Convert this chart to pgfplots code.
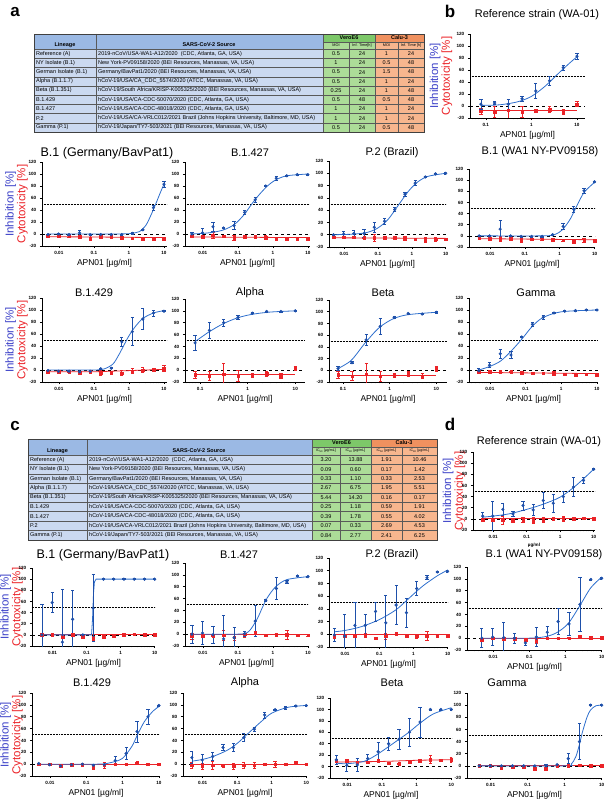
\documentclass[border=0pt]{standalone}
\usepackage{fontspec}
\setmainfont{Liberation Sans}
\usepackage{pgfplots}
\pgfplotsset{compat=1.18}
\definecolor{gpb}{RGB}{30,80,170}
\definecolor{gpbl}{RGB}{45,110,205}
\definecolor{gpr}{RGB}{235,35,40}
\definecolor{lblue}{RGB}{60,65,200}
\definecolor{hb}{RGB}{155,185,228}
\definecolor{bb}{RGB}{203,217,240}
\definecolor{hg}{RGB}{125,200,105}
\definecolor{bg}{RGB}{172,220,152}
\definecolor{ho}{RGB}{240,145,95}
\definecolor{bo}{RGB}{247,182,142}
\pgfplotsset{/pgf/number format/assume math mode=true}
\pgfplotsset{every axis/.append style={scale only axis, xmode=log, axis x line*=bottom, axis y line*=left,
  ymin=-20, ymax=120, ytick={-20,0,20,40,60,80,100,120},
  minor xtick={0.002,0.003,0.004,0.005,0.006,0.007,0.008,0.009,0.02,0.03,0.04,0.05,0.06,0.07,0.08,0.09,0.2,0.3,0.4,0.5,0.6,0.7,0.8,0.9,2,3,4,5,6,7,8,9},
  tick align=outside, major tick length=2.2pt, minor tick length=1.3pt,
  tick style={black, line width=0.6pt}, axis line style={line width=0.8pt},
  tick label style={font=\fontsize{4.6}{5}\selectfont\bfseries},
  xlabel={APN01 [µg/ml]}, xlabel style={font=\fontsize{8.5}{9}\selectfont, inner sep=0pt, yshift=-1pt}}}
\pgfplotsset{
 bl/.style={only marks, mark=*, mark size=1.4pt, color=gpb, error bars/.cd, y dir=both, y explicit, error bar style={line width=0.7pt}, error mark options={rotate=90, mark size=1.6pt, line width=0.7pt}},
 rd/.style={only marks, mark=square*, mark size=1.3pt, color=gpr, error bars/.cd, y dir=both, y explicit, error bar style={line width=0.7pt}, error mark options={rotate=90, mark size=1.6pt, line width=0.7pt}},
 blc/.style={no marks, color=gpbl, line width=0.8pt, smooth},
 rdc/.style={no marks, color=gpr, line width=0.8pt},
}
\newcommand\refl{\draw[densely dotted, line width=0.5pt] ({rel axis cs:0,0}|-{axis cs:1,50}) -- ({rel axis cs:1,0}|-{axis cs:1,50});
 \draw[dashed, line width=0.7pt] ({rel axis cs:0,0}|-{axis cs:1,0}) -- ({rel axis cs:1,0}|-{axis cs:1,0});}
\newcommand\ttl[3]{\node[font=\fontsize{11}{12}\selectfont] at (#1,#2) {#3};}
\newcommand\ttlb[3]{\node[font=\fontsize{12.5}{13}\selectfont] at (#1,#2) {#3};}
\newcommand\ylab[2]{\node[rotate=90, align=center, font=\fontsize{11.5}{9.6}\selectfont, inner sep=0pt] at (#1,#2) {\textcolor{lblue}{Inhibition [\%]}\\\textcolor{gpr}{Cytotoxicity [\%]}};}
\newcommand\TRa[7]{\node[tt, anchor=west] at (36,#1) {#2}; \node[tt, anchor=west] at (98,#1) {#3};
 \node[tt] at (336,#1) {#4}; \node[tt] at (362,#1) {#5}; \node[tt] at (386.5,#1) {#6}; \node[tt] at (411,#1) {#7};}
\newcommand\TRc[7]{\node[tt, anchor=west] at (30,#1) {#2}; \node[tt, anchor=west] at (89,#1) {#3};
 \node[tt] at (326,#1) {#4}; \node[tt] at (355.5,#1) {#5}; \node[tt] at (386.5,#1) {#6}; \node[tt] at (419.5,#1) {#7};}
\begin{document}
\begin{tikzpicture}
\useasboundingbox (0pt,0pt) rectangle (606pt,-799pt);
\begin{scope}[x=1pt, y=-1pt, tt/.style={font=\fontsize{5.5}{6}\selectfont, inner sep=0pt}, gl/.style={draw=black!65, line width=0.35pt}, gb/.style={draw=black!75, line width=0.6pt}]
\node[font=\fontsize{17}{18}\selectfont\bfseries] at (15,12) {a};
\node[font=\fontsize{17}{18}\selectfont\bfseries] at (450,11) {b};
\node[font=\fontsize{17}{18}\selectfont\bfseries] at (15,426) {c};
\node[font=\fontsize{17}{18}\selectfont\bfseries] at (450,424) {d};
% ---------- table a
\fill[hb] (34,34) rectangle (323,49);
\fill[bb] (34,49) rectangle (323,132);
\fill[hg] (323,34) rectangle (375,42);
\fill[bg] (323,42) rectangle (375,132);
\fill[ho] (375,34) rectangle (424,42);
\fill[bo] (375,42) rectangle (424,132);
\draw[gl] (323,42) -- (424,42);
\foreach \y in {49,58.2,67.4,76.7,85.9,95.1,104.3,113.6,122.8} \draw[gl] (34,\y) -- (424,\y);
\foreach \x in {96,323,375} \draw[gl] (\x,34) -- (\x,132);
\draw[gl] (349,42) -- (349,132); \draw[gl] (398,42) -- (398,132);
\draw[gb] (34,34) rectangle (424,132);
\node[tt, font=\fontsize{5.5}{6}\selectfont\bfseries] at (65,45.3) {Lineage};
\node[tt, font=\fontsize{5.5}{6}\selectfont\bfseries] at (209,45) {SARS-CoV-2 Source};
\node[tt, font=\fontsize{5.5}{6}\selectfont\bfseries] at (349,38) {VeroE6};
\node[tt, font=\fontsize{5.5}{6}\selectfont\bfseries] at (399.5,38) {Calu-3};
\node[tt, font=\fontsize{3.8}{4}\selectfont] at (336,45.5) {MOI};
\node[tt, font=\fontsize{3.8}{4}\selectfont] at (362,45.5) {Inf. Time[h]};
\node[tt, font=\fontsize{3.8}{4}\selectfont] at (386.5,45.5) {MOI};
\node[tt, font=\fontsize{3.8}{4}\selectfont] at (411,45.5) {Inf. Time [h]};
\TRa{53.6}{Reference (A)}{2019-nCoV/USA-WA1-A12/2020\ \ (CDC, Atlanta, GA, USA)}{0.5}{24}{1}{24}
\TRa{62.8}{NY Isolate (B.1)}{New York-PV09158/2020 (BEI Resources, Manassas, VA, USA)}{1}{24}{0.5}{48}
\TRa{72.1}{German Isolate (B.1)}{Germany/BavPat1/2020 (BEI Resources, Manassas, VA, USA)}{0.5}{24}{1.5}{48}
\TRa{81.3}{Alpha (B.1.1.7)}{hCoV-19/USA/CA\_CDC\_5574/2020 (ATCC, Manassas, VA, USA)}{0.5}{24}{1}{24}
\TRa{90.5}{Beta (B.1.351)}{hCoV-19/South Africa/KRISP-K005325/2020 (BEI Resources, Manassas, VA, USA)}{0.25}{24}{1}{48}
\TRa{99.7}{B.1.429}{hCoV-19/USA/CA-CDC-50070/2020 (CDC, Atlanta, GA, USA)}{0.5}{48}{0.5}{48}
\TRa{109.0}{B.1.427}{hCoV-19/USA/CA-CDC-48018/2020 (CDC, Atlanta, GA, USA)}{1}{24}{1}{24}
\TRa{118.2}{P.2}{hCoV-19/USA/CA-VRLC012/2021 Brazil (Johns Hopkins University, Baltimore, MD, USA)}{1}{24}{1}{24}
\TRa{127.4}{Gamma (P.1)}{hCoV-19/Japan/TY7-503/2021 (BEI Resources, Manassas, VA, USA)}{0.5}{24}{0.5}{48}
% ---------- table c
\fill[hb] (28,439) rectangle (312,455);
\fill[bb] (28,455) rectangle (312,540);
\fill[hg] (312,439) rectangle (371,447);
\fill[bg] (312,447) rectangle (371,540);
\fill[ho] (371,439) rectangle (437,447);
\fill[bo] (371,447) rectangle (437,540);
\draw[gl] (312,447) -- (437,447);
\foreach \y in {455,464.4,473.9,483.3,492.8,502.2,511.6,521.1,530.6} \draw[gl] (28,\y) -- (437,\y);
\foreach \x in {87,312,371} \draw[gl] (\x,439) -- (\x,540);
\draw[gl] (340,447) -- (340,540); \draw[gl] (402,447) -- (402,540);
\draw[gb] (28,439) rectangle (437,540);
\node[tt, font=\fontsize{5.5}{6}\selectfont\bfseries] at (57.5,451) {Lineage};
\node[tt, font=\fontsize{5.5}{6}\selectfont\bfseries] at (199,451) {SARS-CoV-2 Source};
\node[tt, font=\fontsize{5.5}{6}\selectfont\bfseries] at (341.5,443) {VeroE6};
\node[tt, font=\fontsize{5.5}{6}\selectfont\bfseries] at (404,443) {Calu-3};
\node[tt, font=\fontsize{3.6}{4}\selectfont] at (326,451) {IC\textsubscript{50} [µg/mL]};
\node[tt, font=\fontsize{3.6}{4}\selectfont] at (355.5,451) {IC\textsubscript{90} [µg/mL]};
\node[tt, font=\fontsize{3.6}{4}\selectfont] at (386.5,451) {IC\textsubscript{50} [µg/mL]};
\node[tt, font=\fontsize{3.6}{4}\selectfont] at (419.5,451) {IC\textsubscript{90} [µg/mL]};
\TRc{459.7}{Reference (A)}{2019-nCoV/USA-WA1-A12/2020\ \ (CDC, Atlanta, GA, USA)}{3.20}{13.88}{1.91}{10.46}
\TRc{469.2}{NY Isolate (B.1)}{New York-PV09158/2020 (BEI Resources, Manassas, VA, USA)}{0.09}{0.60}{0.17}{1.42}
\TRc{478.6}{German Isolate (B.1)}{Germany/BavPat1/2020 (BEI Resources, Manassas, VA, USA)}{0.33}{1.10}{0.33}{2.53}
\TRc{488.0}{Alpha (B.1.1.7)}{hCoV-19/USA/CA\_CDC\_5574/2020 (ATCC, Manassas, VA, USA)}{2.67}{6.75}{1.95}{5.51}
\TRc{497.5}{Beta (B.1.351)}{hCoV-19/South Africa/KRISP-K005325/2020 (BEI Resources, Manassas, VA, USA)}{5.44}{14.20}{0.16}{0.17}
\TRc{506.9}{B.1.429}{hCoV-19/USA/CA-CDC-50070/2020 (CDC, Atlanta, GA, USA)}{0.25}{1.18}{0.59}{1.91}
\TRc{516.4}{B.1.427}{hCoV-19/USA/CA-CDC-48018/2020 (CDC, Atlanta, GA, USA)}{0.39}{1.78}{0.55}{4.02}
\TRc{525.8}{P.2}{hCoV-19/USA/CA-VRLC012/2021 Brazil (Johns Hopkins University, Baltimore, MD, USA)}{0.07}{0.33}{2.69}{4.53}
\TRc{535.3}{Gamma (P.1)}{hCoV-19/Japan/TY7-503/2021 (BEI Resources, Manassas, VA, USA)}{0.84}{2.77}{2.41}{6.25}
% titles
\ttlb{107}{153}{B.1 (Germany/BavPat1)}
\ttl{250}{153}{B.1.427}
\ttl{392}{153}{P.2 (Brazil)}
\ttl{540}{152}{B.1 (WA1 NY-PV09158)}
\ttl{537}{15}{Reference strain (WA-01)}
\ttl{94}{293}{B.1.429}
\ttl{250}{293}{Alpha}
\ttl{383}{293}{Beta}
\ttl{536}{293}{Gamma}
\ttlb{103}{555}{B.1 (Germany/BavPat1)}
\ttl{239}{555}{B.1.427}
\ttl{392}{555}{P.2 (Brazil)}
\ttl{544}{555}{B.1 (WA1 NY-PV09158)}
\ttl{539}{442}{Reference strain (WA-01)}
\ttl{92}{683}{B.1.429}
\ttl{245}{683}{Alpha}
\ttl{392}{683}{Beta}
\ttl{507}{683}{Gamma}
\ylab{16.5}{204}
\ylab{16.5}{340}
\ylab{441}{76}
\ylab{11.5}{607}
\ylab{11.5}{735}
\ylab{454}{491}
\end{scope}
% ================= panel a row 1
\begin{axis}[anchor=south west, at={(42pt,-246pt)}, width=125pt, height=84pt, xmin=0.0033, xmax=12.2, xtick={0.01,0.1,1,10}, xticklabels={0.01,0.1,1,10}]
\refl
\addplot[rdc] coordinates {(0.0049,-4.5) (0.1,-5) (1,-5.5) (10,-6)};
\addplot[rd] coordinates {(0.0048828,-4) +- (0,1) (0.0097656,-4) +- (0,1) (0.0195313,-4) +- (0,2) (0.0390625,-5) +- (0,2) (0.078125,-7) +- (0,4) (0.15625,-5) +- (0,1) (0.3125,-5) +- (0,1) (0.625,-6) +- (0,2) (1.25,-7) +- (0,1) (2.5,-8) +- (0,3) (5,-8) +- (0,3) (10,-8) +- (0,2)};
\addplot[blc] coordinates {(0.0049,0) (0.3,0) (1,0.5) (1.5,2) (2,4) (3,14) (4,28) (5,41) (6,52) (8,70) (10,83)};
\addplot[bl] coordinates {(0.0048828,-1) +- (0,1) (0.0097656,0) +- (0,1) (0.0195313,-1) +- (0,1) (0.0390625,2) +- (0,4) (0.078125,-1) +- (0,1) (0.15625,-1) +- (0,1) (0.3125,-1) +- (0,1) (0.625,-1) +- (0,1) (1.25,1) +- (0,1) (2.5,7) +- (0,1) (5,44) +- (0,4) (10,83) +- (0,5)};
\end{axis}
\begin{axis}[anchor=south west, at={(185pt,-246pt)}, width=125pt, height=84pt, xmin=0.0031, xmax=11.5, xtick={0.01,0.1,1,10}, xticklabels={0.01,0.1,1,10}]
\refl
\addplot[rdc] coordinates {(0.0049,-5) (10,-6)};
\addplot[rd] coordinates {(0.0048828,-4) +- (0,2) (0.0097656,-5) +- (0,1) (0.0195313,-2) +- (0,5) (0.0390625,-4) +- (0,1) (0.078125,-6) +- (0,4) (0.15625,-5) +- (0,1) (0.3125,-5) +- (0,1) (0.625,-6) +- (0,3) (1.25,-8) +- (0,1) (2.5,-8) +- (0,1) (5,-8) +- (0,1) (10,-8) +- (0,2)};
\addplot[blc] coordinates {(0.0049,0) (0.01,1) (0.02,3) (0.04,7) (0.08,16) (0.15,32) (0.25,50) (0.4,65) (0.7,80) (1.2,90) (2.5,97) (10,100)};
\addplot[bl] coordinates {(0.0048828,0) +- (0,2) (0.0097656,2) +- (0,7) (0.0195313,12) +- (0,7) (0.0390625,10) +- (0,1) (0.078125,14) +- (0,7) (0.15625,36) +- (0,4) (0.3125,57) +- (0,4) (0.625,80) +- (0,1) (1.25,93) +- (0,3) (2.5,97) +- (0,1) (5,99) +- (0,1) (10,99) +- (0,1)};
\end{axis}
\begin{axis}[anchor=south west, at={(329pt,-247pt)}, width=117pt, height=86pt, xmin=0.0036, xmax=10.2, xtick={0.01,0.1,1,10}, xticklabels={0.01,0.1,1,10}]
\refl
\addplot[rdc] coordinates {(0.0049,-5) (10,-6)};
\addplot[rd] coordinates {(0.0048828,-4) +- (0,1) (0.0097656,-4) +- (0,1) (0.0195313,-4) +- (0,1) (0.0390625,-5) +- (0,1) (0.078125,-5) +- (0,5) (0.15625,-5) +- (0,1) (0.3125,-5) +- (0,1) (0.625,-6) +- (0,3) (1.25,-7) +- (0,1) (2.5,-8) +- (0,4) (5,-7) +- (0,3) (10,-7) +- (0,1)};
\addplot[blc] coordinates {(0.0049,0) (0.02,1) (0.05,4) (0.1,11) (0.2,25) (0.4,48) (0.8,71) (1.5,86) (3,95) (10,100)};
\addplot[bl] coordinates {(0.0048828,0) +- (0,1) (0.0097656,1) +- (0,5) (0.0195313,2) +- (0,5) (0.0390625,2) +- (0,7) (0.078125,12) +- (0,8) (0.15625,22) +- (0,5) (0.3125,41) +- (0,3) (0.625,66) +- (0,3) (1.25,84) +- (0,4) (2.5,94) +- (0,1) (5,99) +- (0,1) (10,100) +- (0,1)};
\end{axis}
\begin{axis}[anchor=south west, at={(469pt,-247pt)}, width=126pt, height=78pt, xmin=0.0025, xmax=10.3, xtick={0.01,0.1,1,10}, xticklabels={0.01,0.1,1,10}]
\refl
\addplot[rdc] coordinates {(0.0049,-5) (10,-7)};
\addplot[rd] coordinates {(0.0048828,-4) +- (0,1) (0.0097656,-5) +- (0,1) (0.0195313,-5) +- (0,4) (0.0390625,-5) +- (0,1) (0.078125,-8) +- (0,4) (0.15625,-6) +- (0,2) (0.3125,-6) +- (0,2) (0.625,-7) +- (0,3) (1.25,-8) +- (0,1) (2.5,-10) +- (0,4) (5,-8) +- (0,3) (10,-9) +- (0,2)};
\addplot[blc] coordinates {(0.0049,0) (0.3,0) (0.7,2) (1.2,11) (2,30) (3,52) (5,78) (10,96)};
\addplot[bl] coordinates {(0.0048828,0) +- (0,1) (0.0097656,0) +- (0,1) (0.0195313,12) +- (0,15) (0.0390625,0) +- (0,1) (0.078125,-1) +- (0,1) (0.15625,-1) +- (0,1) (0.3125,-1) +- (0,1) (0.625,2) +- (0,1) (1.25,17) +- (0,5) (2.5,48) +- (0,5) (5,81) +- (0,5) (10,97) +- (0,1)};
\end{axis}
% panel b
\begin{axis}[anchor=south west, at={(470pt,-118pt)}, width=115pt, height=84pt, xmin=0.045, xmax=15, xtick={0.1,1,10}, xticklabels={0.1,1,10}]
\refl
\addplot[rdc] coordinates {(0.078,-8) (10,-8)};
\addplot[rd] coordinates {(0.078125,-9) +- (0,5) (0.15625,-10) +- (0,9) (0.3125,-7) +- (0,18) (0.625,-10) +- (0,9) (1.25,-8) +- (0,3) (2.5,-6) +- (0,5) (5,-10) +- (0,4) (10,3) +- (0,4)};
\addplot[blc] coordinates {(0.078,1) (0.2,2) (0.5,7) (1,16) (2,33) (4,55) (7,72) (10,82)};
\addplot[bl] coordinates {(0.078125,3) +- (0,8) (0.15625,5) +- (0,2) (0.3125,3) +- (0,8) (0.625,12) +- (0,4) (1.25,25) +- (0,12) (2.5,42) +- (0,8) (5,64) +- (0,4) (10,83) +- (0,5)};
\end{axis}
% ================= panel a row 2
\begin{axis}[anchor=south west, at={(42pt,-382pt)}, width=125pt, height=84pt, xmin=0.0033, xmax=12.2, xtick={0.01,0.1,1,10}, xticklabels={0.01,0.1,1,10}]
\refl
\addplot[rdc] coordinates {(0.0049,-3) (0.1,-3) (1,-1) (10,1)};
\addplot[rd] coordinates {(0.0048828,-3) +- (0,1) (0.0097656,-3) +- (0,1) (0.0195313,-3) +- (0,1) (0.0390625,-4) +- (0,1) (0.078125,-3) +- (0,1) (0.15625,-5) +- (0,4) (0.3125,-4) +- (0,1) (0.625,-5) +- (0,4) (1.25,-2) +- (0,4) (2.5,0) +- (0,4) (5,1) +- (0,1) (10,2) +- (0,5)};
\addplot[blc] coordinates {(0.0049,0) (0.1,0) (0.2,2) (0.35,10) (0.5,24) (0.7,40) (1,57) (1.5,72) (2.5,86) (5,95) (10,99)};
\addplot[bl] coordinates {(0.0048828,-1) +- (0,1) (0.0097656,-2) +- (0,1) (0.0195313,-2) +- (0,1) (0.0390625,-3) +- (0,1) (0.078125,-2) +- (0,1) (0.15625,2) +- (0,1) (0.3125,3) +- (0,1) (0.625,47) +- (0,8) (1.25,64) +- (0,23) (2.5,85) +- (0,17) (5,95) +- (0,5) (10,98) +- (0,1)};
\end{axis}
\begin{axis}[anchor=south west, at={(185pt,-382pt)}, width=120pt, height=83pt, xmin=0.048, xmax=16, xtick={0.1,1,10}, xticklabels={0.1,1,10}]
\refl
\addplot[rdc] coordinates {(0.078,-8) (10,-8)};
\addplot[rd] coordinates {(0.078125,-8) +- (0,6) (0.15625,-10) +- (0,8) (0.3125,-7) +- (0,18) (0.625,-10) +- (0,9) (1.25,-9) +- (0,3) (2.5,-6) +- (0,4) (5,-10) +- (0,4) (10,3) +- (0,4)};
\addplot[blc] coordinates {(0.078,48) (0.15,64) (0.3,78) (0.6,88) (1.2,94) (3,98) (10,100)};
\addplot[bl] coordinates {(0.078125,46) +- (0,12) (0.15625,67) +- (0,13) (0.3125,80) +- (0,6) (0.625,89) +- (0,4) (1.25,96) +- (0,1) (2.5,99) +- (0,1) (5,99) +- (0,1) (10,100) +- (0,1)};
\end{axis}
\begin{axis}[anchor=south west, at={(329pt,-382pt)}, width=118pt, height=82pt, xmin=0.05, xmax=17, xtick={0.1,1,10}, xticklabels={0.1,1,10}]
\refl
\addplot[rdc] coordinates {(0.078,-8) (10,-8)};
\addplot[rd] coordinates {(0.078125,-8) +- (0,6) (0.15625,-10) +- (0,8) (0.3125,-7) +- (0,18) (0.625,-10) +- (0,9) (1.25,-9) +- (0,3) (2.5,-6) +- (0,4) (5,-10) +- (0,4) (10,3) +- (0,4)};
\addplot[blc] coordinates {(0.078,3) (0.15,17) (0.3,47) (0.6,73) (1.2,88) (2.5,95) (10,99)};
\addplot[bl] coordinates {(0.078125,3) +- (0,3) (0.15625,13) +- (0,2) (0.3125,52) +- (0,10) (0.625,75) +- (0,13) (1.25,90) +- (0,2) (2.5,97) +- (0,1) (5,96) +- (0,1) (10,99) +- (0,2)};
\end{axis}
\begin{axis}[anchor=south west, at={(469pt,-382pt)}, width=129pt, height=84pt, xmin=0.0026, xmax=10.7, xtick={0.01,0.1,1,10}, xticklabels={0.01,0.1,1,10}]
\refl
\addplot[rdc] coordinates {(0.0049,-4) (10,-6)};
\addplot[rd] coordinates {(0.0048828,-3) +- (0,1) (0.0097656,-3) +- (0,1) (0.0195313,-3) +- (0,3) (0.0390625,-3) +- (0,1) (0.078125,-4) +- (0,1) (0.15625,-5) +- (0,1) (0.3125,-5) +- (0,1) (0.625,-6) +- (0,3) (1.25,-7) +- (0,1) (2.5,-8) +- (0,3) (5,-7) +- (0,1) (10,-8) +- (0,3)};
\addplot[blc] coordinates {(0.0049,0) (0.01,6) (0.02,15) (0.04,32) (0.08,52) (0.15,72) (0.3,87) (1,97) (10,100)};
\addplot[bl] coordinates {(0.0048828,-1) +- (0,3) (0.0097656,8) +- (0,4) (0.0195313,27) +- (0,8) (0.0390625,25) +- (0,6) (0.078125,55) +- (0,1) (0.15625,76) +- (0,4) (0.3125,88) +- (0,3) (0.625,95) +- (0,1) (1.25,98) +- (0,1) (2.5,99) +- (0,1) (5,100) +- (0,1) (10,100) +- (0,1)};
\end{axis}
% ================= panel c row 1
\begin{axis}[anchor=south west, at={(32pt,-646pt)}, width=123pt, height=78pt, xmin=0.0025, xmax=10.2, xtick={0.01,0.1,1,10}, xticklabels={0.01,0.1,1,10}]
\refl
\addplot[rdc] coordinates {(0.0049,0) (10,0)};
\addplot[rd] coordinates {(0.0048828,0) +- (0,1) (0.0097656,0) +- (0,1) (0.0195313,-4) +- (0,3) (0.0390625,0) +- (0,1) (0.078125,-3) +- (0,1) (0.15625,-7) +- (0,4) (0.3125,-3) +- (0,4) (0.625,-2) +- (0,3) (1.25,0) +- (0,1) (2.5,1) +- (0,1) (5,0) +- (0,1) (10,0) +- (0,1)};
\addplot[no marks, color=gpbl, line width=0.8pt] coordinates {(0.0049,0) (0.14,0) (0.15,30) (0.16,75) (0.17,95) (0.19,100) (10,100)};
\addplot[bl] coordinates {(0.0048828,0) +- (0,54) (0.0097656,58) +- (0,18) (0.0195313,-13) +- (0,95) (0.0390625,28) +- (0,51) (0.078125,0) +- (0,1) (0.15625,48) +- (0,60) (0.3125,100) +- (0,1) (0.625,100) +- (0,1) (1.25,100) +- (0,1) (2.5,100) +- (0,1) (5,100) +- (0,1) (10,100) +- (0,1)};
\end{axis}
\begin{axis}[anchor=south west, at={(185pt,-646pt)}, width=123pt, height=83pt, xmin=0.0031, xmax=10, xtick={0.01,0.1,1,10}, xticklabels={0.01,0.1,1,10}]
\refl
\addplot[rdc] coordinates {(0.0049,0) (10,0)};
\addplot[rd] coordinates {(0.0048828,-3) +- (0,5) (0.0097656,-3) +- (0,1) (0.0195313,-3) +- (0,1) (0.0390625,-2) +- (0,8) (0.078125,-5) +- (0,5) (0.15625,0) +- (0,5) (0.3125,2) +- (0,2) (0.625,-2) +- (0,1) (1.25,-1) +- (0,2) (2.5,-1) +- (0,8) (5,-2) +- (0,1) (10,-2) +- (0,1)};
\addplot[blc] coordinates {(0.0049,0) (0.1,0) (0.2,4) (0.35,25) (0.5,45) (0.7,62) (1.2,80) (2.5,92) (10,97)};
\addplot[bl] coordinates {(0.0048828,0) +- (0,15) (0.0097656,2) +- (0,20) (0.0195313,-1) +- (0,14) (0.0390625,-8) +- (0,40) (0.078125,-6) +- (0,18) (0.15625,1) +- (0,4) (0.3125,22) +- (0,26) (0.625,57) +- (0,1) (1.25,77) +- (0,18) (2.5,88) +- (0,2) (5,98) +- (0,1) (10,97) +- (0,1)};
\end{axis}
\begin{axis}[anchor=south west, at={(329pt,-647pt)}, width=119pt, height=89pt, xmin=0.0034, xmax=10.3, xtick={0.01,0.1,1,10}, xticklabels={0.01,0.1,1,10}]
\refl
\addplot[rdc] coordinates {(0.0049,0) (10,0)};
\addplot[rd] coordinates {(0.0048828,-4) +- (0,1) (0.0097656,-3) +- (0,1) (0.0195313,-2) +- (0,1) (0.0390625,-2) +- (0,3) (0.078125,-6) +- (0,1) (0.15625,-3) +- (0,5) (0.3125,1) +- (0,1) (0.625,-2) +- (0,1) (1.25,-3) +- (0,3) (2.5,-3) +- (0,7) (5,-2) +- (0,1) (10,-2) +- (0,1)};
\addplot[blc] coordinates {(0.0049,4) (0.01,6) (0.03,12) (0.1,23) (0.3,38) (0.6,52) (1,63) (2,77) (5,92) (10,101)};
\addplot[bl] coordinates {(0.0048828,-1) +- (0,10) (0.0097656,-3) +- (0,34) (0.0195313,14) +- (0,36) (0.0390625,14) +- (0,18) (0.078125,36) +- (0,15) (0.15625,18) +- (0,44) (0.3125,46) +- (0,31) (0.625,34) +- (0,23) (1.25,72) +- (0,11) (2.5,89) +- (0,3) (5,98) +- (0,1) (10,99) +- (0,1)};
\end{axis}
\begin{axis}[anchor=south west, at={(467pt,-650pt)}, width=135pt, height=83pt, xmin=0.0019, xmax=10.2, xtick={0.01,0.1,1,10}, xticklabels={0.01,0.1,1,10}]
\refl
\addplot[rdc] coordinates {(0.0049,0) (10,0)};
\addplot[rd] coordinates {(0.0048828,-3) +- (0,1) (0.0097656,0) +- (0,1) (0.0195313,-1) +- (0,1) (0.0390625,-1) +- (0,1) (0.078125,-3) +- (0,3) (0.15625,-5) +- (0,3) (0.3125,0) +- (0,1) (0.625,0) +- (0,1) (1.25,0) +- (0,1) (2.5,2) +- (0,1) (5,1) +- (0,1) (10,1) +- (0,1)};
\addplot[blc] coordinates {(0.0049,0) (0.1,0) (0.3,3) (0.6,10) (1.2,25) (2.5,55) (5,85) (10,103)};
\addplot[bl] coordinates {(0.0048828,0) +- (0,16) (0.0097656,2) +- (0,14) (0.0195313,1) +- (0,26) (0.0390625,0) +- (0,8) (0.078125,-8) +- (0,4) (0.15625,2) +- (0,16) (0.3125,10) +- (0,10) (0.625,28) +- (0,22) (1.25,24) +- (0,20) (2.5,57) +- (0,45) (5,99) +- (0,1) (10,101) +- (0,1)};
\end{axis}
% panel d
\begin{axis}[anchor=south west, at={(473pt,-530pt)}, width=122pt, height=78pt, xmin=0.0025, xmax=11, xtick={0.01,0.1,1,10}, xticklabels={0.01,0.1,1,10}, xlabel={µg/ml}, xlabel style={font=\fontsize{4.6}{5}\selectfont\bfseries}]
\refl
\addplot[rdc] coordinates {(0.0049,0) (10,0)};
\addplot[rd] coordinates {(0.0048828,-2) +- (0,3) (0.0097656,-2) +- (0,1) (0.0195313,-2) +- (0,7) (0.0390625,-3) +- (0,1) (0.078125,-2) +- (0,5) (0.15625,-3) +- (0,5) (0.3125,-2) +- (0,4) (0.625,0) +- (0,3) (1.25,0) +- (0,5) (2.5,0) +- (0,3) (5,1) +- (0,1) (10,0) +- (0,1)};
\addplot[blc] coordinates {(0.0049,3) (0.01,5) (0.03,9) (0.1,17) (0.3,26) (1,39) (3,60) (10,89)};
\addplot[bl] coordinates {(0.0048828,5) +- (0,7) (0.0097656,5) +- (0,27) (0.0195313,17) +- (0,10) (0.0390625,9) +- (0,4) (0.078125,24) +- (0,8) (0.15625,16) +- (0,10) (0.3125,33) +- (0,15) (0.625,28) +- (0,16) (1.25,40) +- (0,10) (2.5,57) +- (0,17) (5,69) +- (0,6) (10,89) +- (0,1)};
\end{axis}
% ================= panel c row 2
\begin{axis}[anchor=south west, at={(32pt,-776pt)}, width=128pt, height=83pt, xmin=0.0032, xmax=10.7, xtick={0.01,0.1,1,10}, xticklabels={0.01,0.1,1,10}]
\refl
\addplot[rdc] coordinates {(0.0049,0) (10,0)};
\addplot[rd] coordinates {(0.0048828,0) +- (0,1) (0.0097656,0) +- (0,1) (0.0195313,-3) +- (0,1) (0.0390625,-1) +- (0,1) (0.078125,-1) +- (0,1) (0.15625,-5) +- (0,3) (0.3125,-2) +- (0,5) (0.625,0) +- (0,1) (1.25,0) +- (0,1) (2.5,2) +- (0,1) (5,0) +- (0,1) (10,0) +- (0,1)};
\addplot[blc] coordinates {(0.0049,0) (0.2,0) (0.5,3) (1,10) (1.8,30) (2.5,48) (4,72) (7,90) (10,97)};
\addplot[bl] coordinates {(0.0048828,1) +- (0,1) (0.0097656,-1) +- (0,1) (0.0195313,-3) +- (0,1) (0.0390625,-1) +- (0,1) (0.078125,0) +- (0,1) (0.15625,-2) +- (0,1) (0.3125,-1) +- (0,1) (0.625,6) +- (0,8) (1.25,18) +- (0,10) (2.5,55) +- (0,18) (5,80) +- (0,13) (10,99) +- (0,1)};
\end{axis}
\begin{axis}[anchor=south west, at={(183pt,-776pt)}, width=124pt, height=83pt, xmin=0.0027, xmax=10.5, xtick={0.01,0.1,1,10}, xticklabels={0.01,0.1,1,10}]
\refl
\addplot[rdc] coordinates {(0.0049,0) (10,0)};
\addplot[rd] coordinates {(0.0048828,-2) +- (0,5) (0.0097656,-3) +- (0,5) (0.0195313,-2) +- (0,7) (0.0390625,-3) +- (0,1) (0.078125,-3) +- (0,5) (0.15625,-2) +- (0,5) (0.3125,-2) +- (0,5) (0.625,0) +- (0,1) (1.25,0) +- (0,5) (2.5,0) +- (0,1) (5,2) +- (0,1) (10,0) +- (0,1)};
\addplot[blc] coordinates {(0.0049,5) (0.01,8) (0.02,13) (0.05,23) (0.1,35) (0.2,51) (0.5,72) (1,86) (3,96) (10,99)};
\addplot[bl] coordinates {(0.0048828,11) +- (0,10) (0.0097656,7) +- (0,10) (0.0195313,13) +- (0,7) (0.0390625,28) +- (0,5) (0.078125,28) +- (0,7) (0.15625,45) +- (0,7) (0.3125,59) +- (0,3) (0.625,83) +- (0,5) (1.25,92) +- (0,1) (2.5,95) +- (0,3) (5,98) +- (0,1) (10,99) +- (0,1)};
\end{axis}
\begin{axis}[anchor=south west, at={(330pt,-778pt)}, width=122pt, height=80pt, xmin=0.0032, xmax=10.5, xtick={0.01,0.1,1,10}, xticklabels={0.01,0.1,1,10}]
\refl
\addplot[rdc, smooth] coordinates {(0.0049,8) (0.1,9) (1,11) (10,12)};
\addplot[rd] coordinates {(0.0048828,10) +- (0,1) (0.0097656,10) +- (0,1) (0.0195313,8) +- (0,1) (0.0390625,8) +- (0,1) (0.078125,10) +- (0,1) (0.15625,6) +- (0,2) (0.3125,5) +- (0,1) (0.625,9) +- (0,1) (1.25,10) +- (0,1) (2.5,12) +- (0,7) (5,11) +- (0,1) (10,12) +- (0,5)};
\addplot[blc] coordinates {(0.0049,6) (0.01,5) (0.03,9) (0.06,18) (0.12,30) (0.3,47) (0.6,60) (1.2,75) (3,92) (10,103)};
\addplot[bl] coordinates {(0.0048828,12) +- (0,8) (0.0097656,2) +- (0,10) (0.0195313,3) +- (0,12) (0.0390625,14) +- (0,7) (0.078125,26) +- (0,16) (0.15625,40) +- (0,11) (0.3125,48) +- (0,17) (0.625,60) +- (0,25) (1.25,78) +- (0,26) (2.5,100) +- (0,1) (5,100) +- (0,1) (10,100) +- (0,1)};
\end{axis}
\begin{axis}[anchor=south west, at={(467pt,-778pt)}, width=135pt, height=85pt, xmin=0.0023, xmax=10.2, xtick={0.01,0.1,1,10}, xticklabels={0.01,0.1,1,10}]
\refl
\addplot[rdc] coordinates {(0.0049,0) (10,0)};
\addplot[rd] coordinates {(0.0048828,0) +- (0,1) (0.0097656,0) +- (0,1) (0.0195313,-3) +- (0,1) (0.0390625,-2) +- (0,1) (0.078125,-2) +- (0,1) (0.15625,-5) +- (0,1) (0.3125,-5) +- (0,1) (0.625,0) +- (0,1) (1.25,0) +- (0,1) (2.5,1) +- (0,1) (5,0) +- (0,1) (10,0) +- (0,1)};
\addplot[blc] coordinates {(0.0049,0) (1,0) (1.5,3) (2,15) (2.5,35) (3,55) (4,80) (5,92) (7,99) (10,100)};
\addplot[bl] coordinates {(0.0048828,0) +- (0,1) (0.0097656,0) +- (0,1) (0.0195313,0) +- (0,1) (0.0390625,0) +- (0,1) (0.078125,0) +- (0,1) (0.15625,0) +- (0,1) (0.3125,0) +- (0,3) (0.625,2) +- (0,1) (1.25,12) +- (0,8) (2.5,40) +- (0,30) (5,100) +- (0,1) (10,100) +- (0,1)};
\end{axis}
\end{tikzpicture}
\end{document}
